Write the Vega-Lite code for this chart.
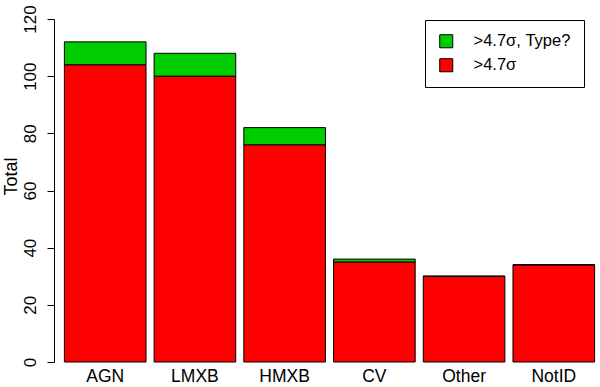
{
  "$schema": "https://vega.github.io/schema/vega-lite/v6.json",
  "autosize": "none",
  "width": 541,
  "height": 343,
  "padding": {"left": 59, "top": 19, "right": 0, "bottom": 25},
  "background": "white",
  "config": {
    "view": {"stroke": null},
    "font": "Liberation Sans"
  },
  "data": {
    "values": [
      {"source": "AGN", "type": ">4.7σ", "count": 104},
      {"source": "AGN", "type": ">4.7σ, Type?", "count": 8},
      {"source": "LMXB", "type": ">4.7σ", "count": 100},
      {"source": "LMXB", "type": ">4.7σ, Type?", "count": 8},
      {"source": "HMXB", "type": ">4.7σ", "count": 76},
      {"source": "HMXB", "type": ">4.7σ, Type?", "count": 6},
      {"source": "CV", "type": ">4.7σ", "count": 35},
      {"source": "CV", "type": ">4.7σ, Type?", "count": 1},
      {"source": "Other", "type": ">4.7σ", "count": 30},
      {"source": "Other", "type": ">4.7σ, Type?", "count": 0},
      {"source": "NotID", "type": ">4.7σ", "count": 34},
      {"source": "NotID", "type": ">4.7σ, Type?", "count": 0}
    ]
  },
  "mark": {"type": "bar", "stroke": "black", "strokeWidth": 1},
  "encoding": {
    "x": {
      "field": "source",
      "type": "nominal",
      "sort": ["AGN", "LMXB", "HMXB", "CV", "Other", "NotID"],
      "scale": {"paddingInner": 0.09, "paddingOuter": 0.06},
      "axis": {
        "title": null,
        "domain": false,
        "ticks": false,
        "labelAngle": 0,
        "labelFontSize": 17.5,
        "labelColor": "black",
        "labelPadding": 5
      }
    },
    "y": {
      "field": "count",
      "type": "quantitative",
      "stack": "zero",
      "scale": {"domain": [0, 120], "nice": false},
      "axis": {
        "title": "Total",
        "titleFontSize": 18,
        "titleFontWeight": "normal",
        "titleColor": "black",
        "titlePadding": 1,
        "titleY": 157,
        "values": [0, 20, 40, 60, 80, 100, 120],
        "grid": false,
        "offset": 5,
        "domainColor": "black",
        "tickColor": "black",
        "tickSize": 7,
        "labelAngle": -90,
        "labelAlign": "center",
        "labelBaseline": "bottom",
        "labelPadding": 8,
        "labelFontSize": 17,
        "labelColor": "black"
      }
    },
    "color": {
      "field": "type",
      "type": "nominal",
      "scale": {"domain": [">4.7σ, Type?", ">4.7σ"], "range": ["#00CD00", "#FF0000"]},
      "legend": {
        "title": null,
        "orient": "none",
        "legendX": 366,
        "legendY": 1,
        "strokeColor": "black",
        "fillColor": "white",
        "padding": 13,
        "symbolType": "square",
        "symbolSize": 170,
        "symbolStrokeColor": "black",
        "symbolStrokeWidth": 1,
        "labelFontSize": 16.5,
        "labelColor": "black",
        "labelOffset": 19,
        "rowPadding": 6,
        "cornerRadius": 0
      }
    },
    "order": {"field": "type", "sort": "ascending"}
  }
}
